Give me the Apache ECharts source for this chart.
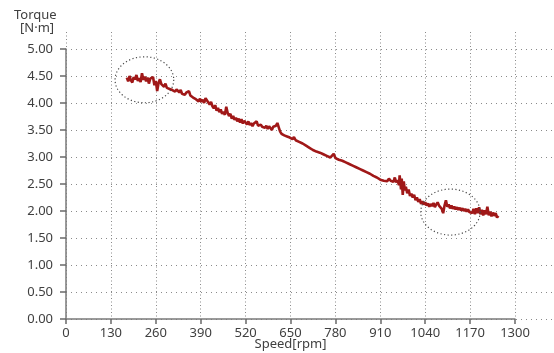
<!DOCTYPE html>
<html>
<head>
<meta charset="utf-8">
<script src="https://cdn.jsdelivr.net/npm/echarts@6/dist/echarts.min.js"></script>
<style>
html,body{margin:0;padding:0;background:#fff;}
#chart{width:554px;height:353px;}
</style>
</head>
<body>
<div id="chart"></div>
<script>
// ---- data ----
const xTicks = [0,130,260,390,520,650,780,910,1040,1170,1300];
const yTicks = [0,0.5,1,1.5,2,2.5,3,3.5,4,4.5,5];
// [speed rpm, torque N·m]
const torqueCurve = [
[176,4.47],[180,4.40],[184,4.50],[188,4.42],[192,4.38],[196,4.48],[200,4.44],[204,4.52],[208,4.41],[212,4.46],
[216,4.39],[220,4.55],[224,4.43],[228,4.49],[232,4.40],[236,4.47],[240,4.36],[244,4.45],[248,4.42],[252,4.48],
[256,4.33],[260,4.41],[264,4.22],[268,4.37],[272,4.44],[276,4.35],[280,4.33],[284,4.30],[288,4.36],[292,4.28],
[296,4.31],[300,4.26],[304,4.29],[308,4.24],[312,4.27],[316,4.21],[320,4.25],[324,4.22],[328,4.20],[332,4.24],
[336,4.17],[340,4.20],[344,4.15],[348,4.19],[352,4.16],[356,4.22],[360,4.14],[364,4.16],[368,4.10],[372,4.13],
[376,4.07],[380,4.10],[384,4.03],[388,4.08],[392,4.02],[396,4.06],[400,4.00],[404,4.09],[408,4.12],[412,4.01],
[416,3.97],[420,4.02],[424,3.94],[428,3.90],[432,3.96],[436,3.86],[440,3.91],[444,3.83],[448,3.88],[452,3.80],
[456,3.84],[460,3.78],[464,3.93],[468,3.82],[472,3.76],[476,3.80],[480,3.71],[484,3.76],[488,3.69],[492,3.73],
[496,3.66],[500,3.71],[504,3.64],[508,3.70],[512,3.62],[516,3.67],[520,3.65],[524,3.60],[528,3.66],[532,3.59],
[536,3.63],[540,3.57],[544,3.62],[548,3.60],[552,3.66],[556,3.58],[560,3.55],[564,3.60],[568,3.56],[572,3.59],
[576,3.54],[580,3.58],[584,3.52],[588,3.57],[592,3.55],[596,3.50],[600,3.56],[604,3.53],[608,3.58],[612,3.63],
[616,3.55],[620,3.47],[624,3.43],[628,3.46],[632,3.40],[636,3.43],[640,3.38],[644,3.41],[648,3.36],[652,3.38],
[656,3.33],[660,3.37],[665,3.31],[670,3.33],[675,3.28],[680,3.31],[685,3.25],[690,3.27],[695,3.21],[700,3.23],
[705,3.17],[710,3.19],[715,3.13],[720,3.15],[725,3.10],[730,3.12],[735,3.08],[740,3.10],[745,3.05],[750,3.07],
[755,3.02],[760,3.04],[765,2.99],[770,3.02],[775,3.06],[780,2.98],[785,2.99],[790,2.95],[795,2.97],[800,2.93],
[805,2.94],[810,2.90],[815,2.92],[820,2.87],[825,2.88],[830,2.84],[835,2.86],[840,2.81],[845,2.83],[850,2.78],
[855,2.80],[860,2.75],[865,2.77],[870,2.72],[875,2.74],[880,2.69],[885,2.71],[890,2.65],[895,2.67],[900,2.62],
[905,2.63],[910,2.58],[915,2.60],[920,2.56],[925,2.59],[930,2.55],[935,2.60],[940,2.56],[945,2.59],[948,2.54],
[952,2.62],[956,2.53],[960,2.57],[964,2.48],[966,2.66],[970,2.40],[972,2.60],[975,2.30],[978,2.55],[981,2.38],
[984,2.45],[988,2.33],[992,2.40],[996,2.28],[1000,2.32],[1004,2.25],[1008,2.30],[1012,2.20],[1016,2.25],[1020,2.17],
[1024,2.22],[1028,2.13],[1032,2.18],[1036,2.12],[1040,2.16],[1044,2.10],[1048,2.14],[1052,2.08],[1056,2.13],[1060,2.09],
[1064,2.15],[1068,2.07],[1072,2.12],[1076,2.16],[1080,2.10],[1084,2.13],[1088,2.04],[1092,1.96],[1096,2.10],[1100,2.20],
[1104,2.08],[1108,2.12],[1112,2.05],[1116,2.10],[1120,2.04],[1124,2.08],[1128,2.03],[1132,2.07],[1136,2.02],[1140,2.06],
[1144,2.01],[1148,2.05],[1152,2.00],[1156,2.04],[1160,1.99],[1164,2.03],[1168,1.98],[1172,2.01],[1176,1.96],[1180,2.04],
[1184,1.94],[1188,2.05],[1192,1.96],[1196,2.07],[1200,1.94],[1204,2.02],[1208,1.92],[1212,2.01],[1216,1.94],[1220,2.08],
[1224,1.92],[1228,1.99],[1232,1.90],[1236,1.97],[1240,1.91],[1244,1.96],[1248,1.88],[1252,1.91]
];
// annotation ellipses: centre speed, centre torque, half-width (rpm), half-height (N·m)
const ellipseSpeed = [227, 1113];
const ellipseTorque = [4.43, 1.98];
const ellipseRx = [85, 86];
const ellipseRy = [0.426, 0.426];

// ---- chart ----
const chart = echarts.init(document.getElementById('chart'), null, {renderer:'canvas'});
const FONT = '"Noto Sans", "Open Sans", sans-serif';
const ellipseData = ellipseSpeed.map((s,i)=>[s, ellipseTorque[i], ellipseRx[i], ellipseRy[i]]);
const gridColor = '#8a8a8a';

chart.setOption({
  animation:false,
  backgroundColor:'#fff',
  textStyle:{fontFamily:FONT},
  grid:[
    {left:66, top:49, width:449, height:270, outerBoundsMode:'none', containLabel:false},
    {left:66, top:32, width:449, height:287, outerBoundsMode:'none', containLabel:false},
    {left:66, top:49, right:0, height:270, outerBoundsMode:'none', containLabel:false}
  ],
  xAxis:[
    {gridIndex:0, type:'value', min:xTicks[0], max:xTicks[xTicks.length-1], interval:xTicks[1]-xTicks[0],
     axisLine:{lineStyle:{color:'#7a7a7a', width:1.5}},
     axisTick:{show:true, length:5, lineStyle:{color:'#6a6a6a', width:1.5}},
     axisLabel:{margin:8, fontSize:13, color:'#404040', fontFamily:FONT, formatter:v=>String(v)},
     splitLine:{show:false},
     name:'Speed[rpm]', nameLocation:'middle', nameGap:19, nameMoveOverlap:false,
     nameTextStyle:{fontSize:13, color:'#404040', fontFamily:FONT}},
    {gridIndex:1, type:'value', min:xTicks[0], max:xTicks[xTicks.length-1], interval:xTicks[1]-xTicks[0],
     axisLine:{show:false}, axisTick:{show:false}, axisLabel:{show:false},
     splitLine:{show:true, lineStyle:{color:gridColor, width:1, type:[1,2.5]}}},
    {gridIndex:2, type:'value', min:0, max:1, show:false, splitLine:{show:false}}
  ],
  yAxis:[
    {gridIndex:0, type:'value', min:yTicks[0], max:yTicks[yTicks.length-1], interval:yTicks[1]-yTicks[0],
     axisLine:{show:true, lineStyle:{color:'#7a7a7a', width:1.5}},
     axisTick:{show:true, length:6, lineStyle:{color:'#6a6a6a', width:1.5}},
     axisLabel:{margin:13, fontSize:13, color:'#404040', fontFamily:FONT, formatter:v=>v.toFixed(2)},
     splitLine:{show:false}},
    {gridIndex:1, type:'value', min:0, max:1, show:false, splitLine:{show:false}},
    {gridIndex:2, type:'value', min:yTicks[0], max:yTicks[yTicks.length-1], interval:yTicks[1]-yTicks[0],
     axisLine:{show:false}, axisTick:{show:false}, axisLabel:{show:false},
     splitLine:{show:true, lineStyle:{color:gridColor, width:1, type:[1,4]}}}
  ],
  graphic:[
    {type:'text', left:14, top:9, style:{text:'Torque', font:'13px '+FONT, fill:'#404040'}},
    {type:'text', left:20, top:22, style:{text:'[N·m]', font:'13px '+FONT, fill:'#404040'}}
  ],
  series:[
    {type:'line', xAxisIndex:0, yAxisIndex:0, data:torqueCurve, showSymbol:false, symbol:'none',
     lineStyle:{color:'#a01818', width:2.6}, z:5},
    {type:'custom', xAxisIndex:0, yAxisIndex:0, data:ellipseData, z:6, clip:false,
     renderItem:function(params, api){
       const c = api.coord([api.value(0), api.value(1)]);
       const s = api.size([api.value(2), api.value(3)]);
       const pts = [];
       const n = 72;
       for(let k=0;k<n;k++){
         const a = k/n*Math.PI*2;
         pts.push([c[0]+s[0]*Math.cos(a), c[1]+s[1]*Math.sin(a)]);
       }
       return {type:'polygon', shape:{points:pts},
               style:{fill:'none', stroke:'#4a4a4a', lineWidth:1.2, lineDash:[1.2,2.4]}};
     }}
  ]
});
</script>
</body>
</html>
